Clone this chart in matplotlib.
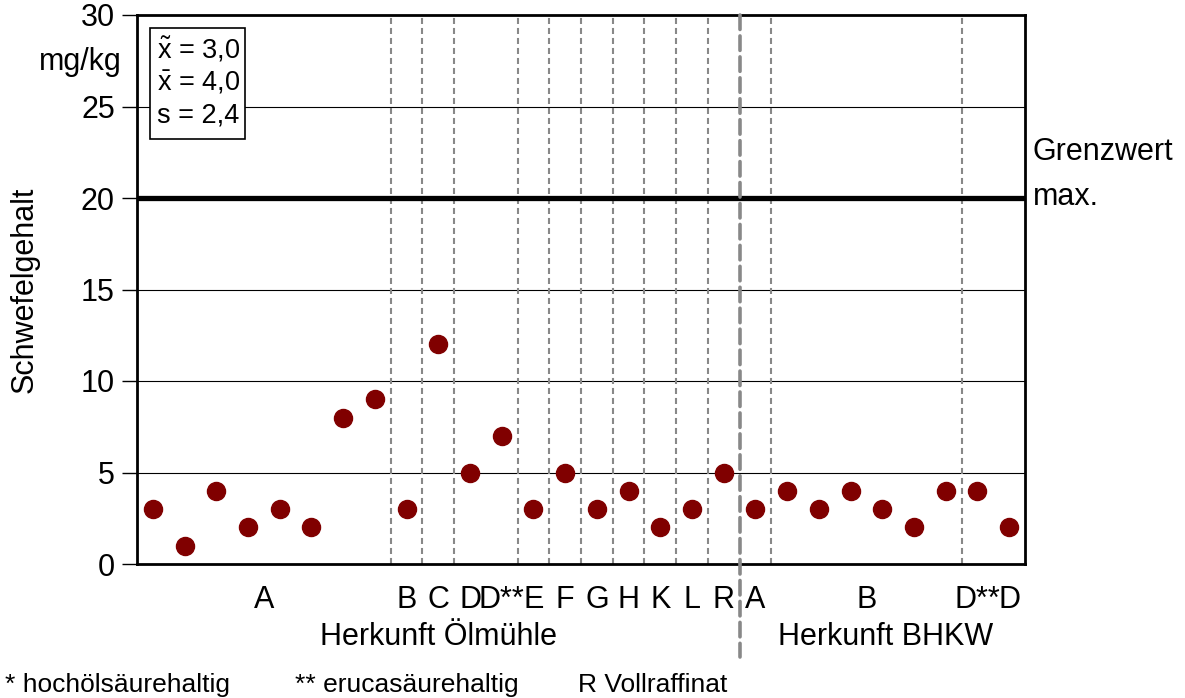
import matplotlib.pyplot as plt

plt.rcParams['font.family'] = ['Liberation Sans', 'DejaVu Sans']
plt.rcParams['mathtext.fontset'] = 'custom'
plt.rcParams['mathtext.rm'] = 'Liberation Sans'
plt.rcParams['mathtext.it'] = 'Liberation Sans'

# Messwerte Schwefelgehalt (mg/kg), 28 Proben
werte = [3, 1, 4, 2, 3, 2, 8, 9,      # Ölmühle A
         3, 12, 5, 7, 3, 5, 3, 4, 2, 3, 5,   # B C D D** E F G H K L R
         3, 4, 3, 4, 3, 2, 4, 4, 2]    # BHKW A, B (6), D**, D

# Beschriftungen der Gruppen: (Text, erster Index, letzter Index)
gruppen = [('A', 0, 7), ('B', 8, 8), ('C', 9, 9), ('D', 10, 10), ('D**', 11, 11),
           ('E', 12, 12), ('F', 13, 13), ('G', 14, 14), ('H', 15, 15), ('K', 16, 16),
           ('L', 17, 17), ('R', 18, 18), ('A', 19, 19), ('B', 20, 25),
           ('D**', 26, 26), ('D', 27, 27)]
trenner = [7.5, 8.5, 9.5, 11.5, 12.5, 13.5, 14.5, 15.5, 16.5, 17.5, 19.5, 25.5]
haupttrenner = 18.5
grenzwert = 20
yticks = [0, 5, 10, 15, 20, 25, 30]
statistik = [r'$\tilde{\mathrm{x}}$ = 3,0', r'$\bar{\mathrm{x}}$ = 4,0', 's = 2,4']
fussnoten = ['* hochölsäurehaltig', '** erucasäurehaltig', 'R Vollraffinat']

fig = plt.figure(figsize=(11.85, 6.98), dpi=100)
ax = fig.add_axes([137/1185, 134/698, 888/1185, 549/698])

x = list(range(len(werte)))
ax.set_xlim(-0.5, 27.5)
ax.set_ylim(0, 30)

for y in [5, 10, 15, 25]:
    ax.axhline(y, color='black', lw=0.8, zorder=1)
ax.axhline(grenzwert, color='black', lw=3.8, zorder=3)

for t in trenner:
    ax.plot([t, t], [0, 29.9], color='#888888', lw=1.5, dashes=(2.9, 1.9), zorder=2)
ax.plot([haupttrenner, haupttrenner], [30, -5.1], color='#888888', lw=2.6,
        dashes=(4, 1.8), solid_capstyle='round', dash_capstyle='round', clip_on=False, zorder=4)

ax.plot(x, werte, 'o', color='#800000', markersize=13, zorder=5)

for s in ax.spines.values():
    s.set_linewidth(2)
ax.set_yticks(yticks)
ax.tick_params(axis='y', direction='out', length=11, width=1, labelsize=22, pad=5)
ax.set_xticks([])

for name, a, b in gruppen:
    ax.text((a + b) / 2, -1.95, name, ha='center', va='center', fontsize=22)
ax.text(9.0, -4.0, 'Herkunft Ölmühle', ha='center', va='center', fontsize=22)
ax.text(23.1, -4.0, 'Herkunft BHKW', ha='center', va='center', fontsize=22)

fig.text(122/1185, 1 - 62/698, 'mg/kg', ha='right', va='center', fontsize=22)
fig.text(25/1185, 1 - 290/698, 'Schwefelgehalt', ha='center', va='center',
         rotation=90, fontsize=22)
fig.text(1033/1185, 1 - 152/698, 'Grenzwert', ha='left', va='center', fontsize=22)
fig.text(1033/1185, 1 - 197/698, 'max.', ha='left', va='center', fontsize=22)

# Kasten mit Kennwerten
box = plt.Rectangle((150/1185, 1 - 139/698), 95/1185, 111/698, transform=fig.transFigure,
                    facecolor='white', edgecolor='black', lw=1.2, zorder=6)
fig.add_artist(box)
for i, txt in enumerate(statistik):
    fig.text(157/1185, 1 - (50 + 33 * i)/698, txt, ha='left', va='center', fontsize=19.5, zorder=7)

for xpos, txt in zip([5, 295, 578], fussnoten):
    fig.text(xpos/1185, 1 - 685/698, txt, ha='left', va='center', fontsize=19)

fig.savefig('out.png', dpi=100)
